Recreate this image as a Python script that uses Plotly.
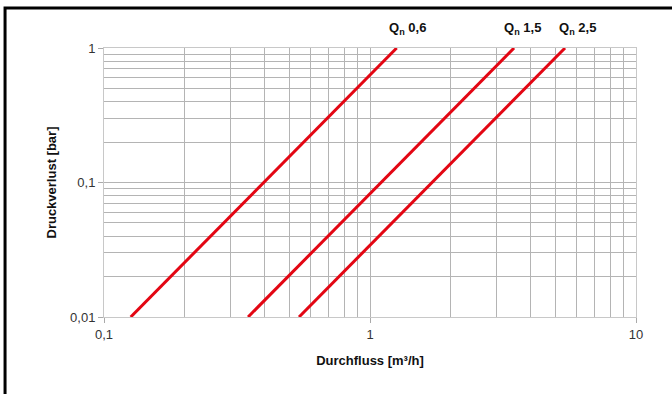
import math
import plotly.graph_objects as go

# Data
flow_06 = [0.126, 1.26]
flow_15 = [0.348, 3.48]
flow_25 = [0.541, 5.41]
pressure = [0.01, 1.0]
series_names = ["Q<sub>n</sub> 0,6", "Q<sub>n</sub> 1,5", "Q<sub>n</sub> 2,5"]
label_x = [1.38, 3.75, 6.05]

x_tickvals = [0.1, 1, 10]
x_ticktext = ["0,1", "1", "10"]
y_tickvals = [0.01, 0.1, 1]
y_ticktext = ["0,01", "0,1", "1"]

x_minor = [m * d for d in [0.1, 1] for m in range(2, 10)]
y_minor = [m * d for d in [0.01, 0.1] for m in range(2, 10)]

fig = go.Figure()
for flows, name in zip([flow_06, flow_15, flow_25], series_names):
    fig.add_trace(go.Scatter(x=flows, y=pressure, mode="lines", name=name,
                             line=dict(color="#e30613", width=3), showlegend=False))

for lx, name in zip(label_x, series_names):
    fig.add_annotation(x=math.log10(lx), y=1, xref="x", yref="paper", yshift=20,
                       text="<b>" + name + "</b>", showarrow=False,
                       font=dict(size=13, color="#111", family="Liberation Sans, Arial"),
                       xanchor="center", yanchor="middle")

grid = "#b4b4b4"
fig.update_xaxes(type="log", range=[-1, 1], tickvals=x_tickvals, ticktext=x_ticktext,
                 showgrid=True, gridcolor=grid, gridwidth=1, automargin=False,
                 minor=dict(tickvals=x_minor, showgrid=True, gridcolor=grid, gridwidth=1),
                 ticks="outside", ticklen=5, tickcolor="#aaa",
                 showline=True, linecolor="#c8c8c8", mirror=True, zeroline=False,
                 tickfont=dict(size=13, color="#333"),
                 title=dict(text="<b>Durchfluss [m³/h]</b>", font=dict(size=13, color="#111"), standoff=15))
fig.update_yaxes(type="log", range=[-2, 0], tickvals=y_tickvals, ticktext=y_ticktext,
                 showgrid=True, gridcolor=grid, gridwidth=1, automargin=False,
                 minor=dict(tickvals=y_minor, showgrid=True, gridcolor=grid, gridwidth=1),
                 ticks="outside", ticklen=5, tickcolor="#aaa",
                 showline=True, linecolor="#c8c8c8", mirror=True, zeroline=False,
                 tickfont=dict(size=13, color="#333"),
                 title=dict(text="<b>Druckverlust [bar]</b>", font=dict(size=13, color="#111"), standoff=10))

fig.add_shape(type="rect", xref="paper", yref="paper", x0=-0.186, y0=-0.6, x1=1.3, y1=1.1487,
              line=dict(color="black", width=3), fillcolor="rgba(0,0,0,0)", layer="above")

fig.update_layout(width=672, height=394, margin=dict(l=104, r=36, t=48, b=77),
                  paper_bgcolor="white", plot_bgcolor="white",
                  font=dict(family="Liberation Sans, Arial, sans-serif", size=12, color="#333"))

fig.write_html("out.html", config={"displayModeBar": False},
               post_script="document.body.style.margin='0';")
